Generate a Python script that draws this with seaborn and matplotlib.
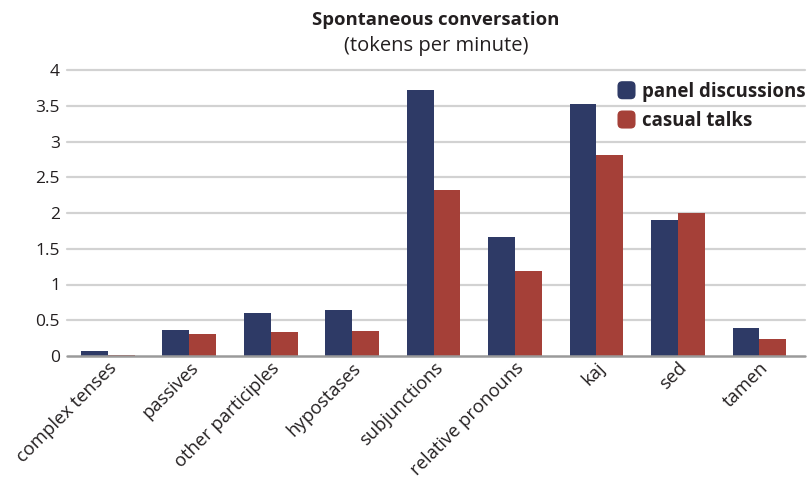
import matplotlib
matplotlib.use("Agg")
import matplotlib.pyplot as plt
from matplotlib.patches import FancyBboxPatch, Rectangle
from matplotlib.legend_handler import HandlerPatch
import seaborn as sns
import pandas as pd

# Token counts per minute for each construction
categories = ["complex tenses", "passives", "other participles", "hypostases",
              "subjunctions", "relative pronouns", "kaj", "sed", "tamen"]
panel_discussions = [0.07, 0.36, 0.60, 0.64, 3.72, 1.66, 3.52, 1.90, 0.39]
casual_talks = [0.01, 0.31, 0.34, 0.35, 2.32, 1.19, 2.81, 2.00, 0.24]
series_names = ["panel discussions", "casual talks"]
y_ticks = [0, 0.5, 1, 1.5, 2, 2.5, 3, 3.5, 4]
y_tick_labels = ["0", "0.5", "1", "1.5", "2", "2.5", "3", "3.5", "4"]

df = pd.DataFrame({
    "category": categories * 2,
    "value": panel_discussions + casual_talks,
    "series": [series_names[0]] * len(categories) + [series_names[1]] * len(categories),
})

sns.set_theme(style="white")
plt.rcParams["font.family"] = ["Open Sans", "DejaVu Sans"]
text_color = "#231f20"

fig = plt.figure(figsize=(8.09, 4.79), dpi=100)
ax = fig.add_axes([67 / 809, 1 - 356 / 479, (805 - 67) / 809, (356 - 70) / 479])

palette = {series_names[0]: "#2e3a66", series_names[1]: "#a54038"}
sns.barplot(data=df, x="category", y="value", hue="series", order=categories,
            hue_order=series_names, palette=palette, width=0.66, gap=0,
            saturation=1, linewidth=0, ax=ax, zorder=3)

ax.set_xlim(-0.5, 8.56)
ax.set_ylim(0, 4)
ax.set_yticks(y_ticks)
ax.set_yticklabels(y_tick_labels)
ax.set_xlabel("")
ax.set_ylabel("")
for s in ax.spines.values():
    s.set_visible(False)

# horizontal guides; the zero line is darker
for t in y_ticks[1:]:
    ax.axhline(t, color="#d2d2d2", lw=1.6, zorder=1, clip_on=False)
ax.axhline(0, color="#9a9a9a", lw=1.8, zorder=4, clip_on=False)

ax.tick_params(axis="both", length=0, colors=text_color)
ax.tick_params(axis="y", pad=5, labelsize=12.5)
ax.tick_params(axis="x", pad=2, labelsize=13.2)
for lbl in ax.get_xticklabels():
    lbl.set_rotation(45)
    lbl.set_ha("right")
    lbl.set_va("top")
    lbl.set_rotation_mode("anchor")


class RoundedSwatch(HandlerPatch):
    def create_artists(self, legend, orig_handle, xdescent, ydescent,
                       width, height, fontsize, trans):
        s = 13
        x0 = -xdescent + width - s
        y0 = -ydescent + (height - s) / 2
        p = FancyBboxPatch((x0, y0), s, s,
                           boxstyle="round,pad=0,rounding_size=3.5",
                           facecolor=orig_handle.get_facecolor(),
                           edgecolor="none", transform=trans)
        return [p]


handles, labels = ax.get_legend_handles_labels()
leg = ax.legend(handles, labels, loc="upper right", bbox_to_anchor=(1.011, 0.985),
                frameon=False, handler_map={Rectangle: RoundedSwatch()},
                handlelength=1.0, handletextpad=0.35, labelspacing=0.5,
                borderaxespad=0, prop={"weight": "bold", "size": 13.4})
for t in leg.get_texts():
    t.set_color(text_color)

cx = (67 + 805) / 2 / 809
fig.text(cx, 1 - 20 / 479, "Spontaneous conversation", ha="center", va="center",
         fontsize=13.3, fontweight="bold", color=text_color)
fig.text(cx, 1 - 46 / 479, "(tokens per minute)", ha="center", va="center",
         fontsize=14.5, color=text_color)

fig.savefig("out.png", dpi=100)
